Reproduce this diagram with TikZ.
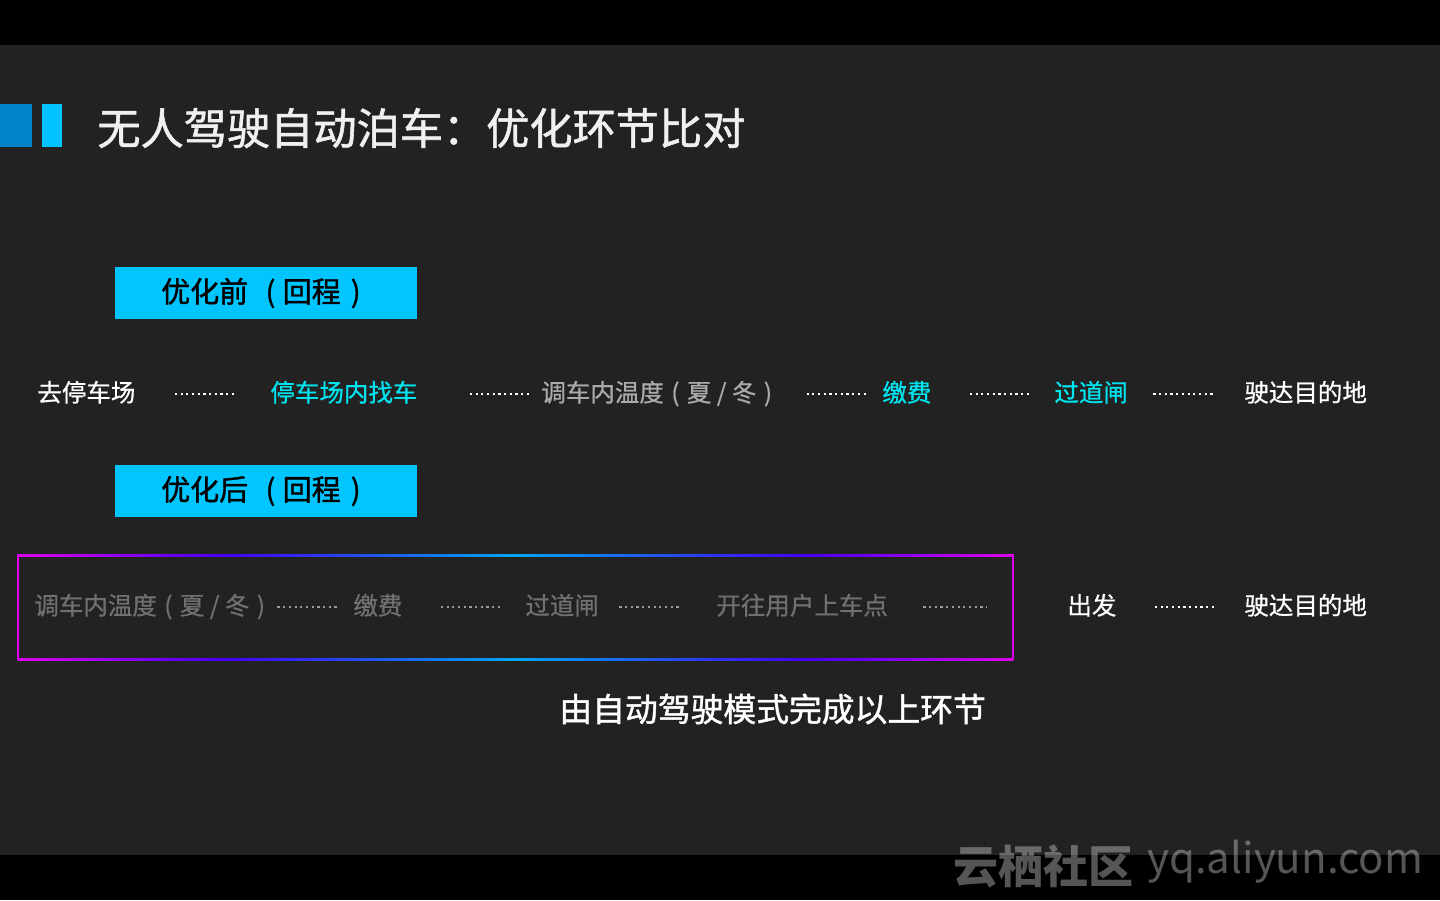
\documentclass[tikz,border=0pt]{standalone}
\usepackage{fontspec}
\setmainfont{Noto Sans CJK SC}
\newfontfamily\medfont{Noto Sans CJK SC}[FakeBold=1.3]
\newfontfamily\semifont{Noto Sans CJK SC}[FakeBold=0.7]
\definecolor{bgdark}{RGB}{34,34,34}
\definecolor{barblue}{RGB}{0,133,200}
\definecolor{barcyan}{RGB}{0,195,255}
\definecolor{boxcyan}{RGB}{0,197,255}
\definecolor{hotcyan}{RGB}{0,228,240}
\definecolor{midgray}{RGB}{170,170,170}
\definecolor{dimgray}{RGB}{112,112,112}
\definecolor{framemag}{RGB}{224,0,240}
\definecolor{framevio}{RGB}{68,0,240}
\definecolor{frameblu}{RGB}{0,168,240}
\newcommand\lp{\hspace{0.3em}(\hspace{0.3em}}
\newcommand\rp{\hspace{0.3em})}
\newcommand\taglp{\hspace{0.6em}(\hspace{0.25em}}
\newcommand\tagrp{\hspace{0.35em})\hspace{0.35em}\null}
\begin{document}
\begin{tikzpicture}[x=0.5pt, y=-0.5pt,
  item/.style={anchor=west, inner sep=0pt, text height=0.88em, text depth=0.12em,
    text=white, font=\semifont\fontsize{12.25}{14}\selectfont},
  hot/.style={item, text=hotcyan},
  dim/.style={item, text=dimgray},
  tag/.style={fill=boxcyan, inner sep=0pt, minimum width=151pt, minimum height=26pt,
    text=black, font=\medfont\fontsize{14.5}{16}\selectfont},
  dots/.style={draw=white, line width=1.1pt, dash pattern=on 1.1pt off 1.75pt},
  dimdots/.style={dots, draw=gray!80}]
  \useasboundingbox (0,0) rectangle (1440,900);
  \fill[bgdark] (0,0) rectangle (1440,900);
  \fill[black] (0,0) rectangle (1440,45);          % 上下黑边
  \fill[black] (0,855) rectangle (1440,900);
  % 标题
  \fill[barblue] (0,104) rectangle (32,147);
  \fill[barcyan] (42,104) rectangle (62,147);
  \node[anchor=west, inner sep=0pt, text=white!94!black, font=\medfont\fontsize{21.6}{24}\selectfont]
    (title) at (97,128) {无人驾驶自动泊车：优化环节比对};
  % 优化前
  \node[tag] (before) at (266,293) {优化前\taglp 回程\tagrp};
  \node[item] (go) at (37,394) {去停车场};
  \node[hot] (seek) at (270,394) {停车场内找车};
  \node[item, text=midgray] (temp) at (541,394) {调车内温度\lp 夏 / 冬\rp};
  \node[hot] (pay) at (882,394) {缴费};
  \node[hot] (gate) at (1054,394) {过道闸};
  \node[item] (arrive) at (1244,394) {驶达目的地};
  \draw[dots, shorten <=19.5pt, shorten >=16.5pt] (go) -- (seek);
  \draw[dots, shorten <=26pt, shorten >=4.5pt] (seek) -- (temp);
  \draw[dots, shorten <=17pt, shorten >=7pt] (temp) -- (pay);
  \draw[dots, shorten <=19pt, shorten >=11.5pt] (pay) -- (gate);
  \draw[dots, shorten <=12.5pt, shorten >=15pt] (gate) -- (arrive);
  % 优化后
  \node[tag] (after) at (266,491) {优化后\taglp 回程\tagrp};
  \node[inner sep=0pt, minimum width=497.5pt, minimum height=52.5pt] (frame) at (515.5,607) {};
  \shade[left color=framemag, right color=framevio] (18,554) rectangle (225,556);
  \shade[left color=framevio, right color=frameblu] (225,554) rectangle (515,556);
  \shade[left color=frameblu, right color=framevio] (515,554) rectangle (805,556);
  \shade[left color=framevio, right color=framemag] (805,554) rectangle (1013,556);
  \shade[left color=framemag, right color=framevio] (18,658) rectangle (225,660);
  \shade[left color=framevio, right color=frameblu] (225,658) rectangle (515,660);
  \shade[left color=frameblu, right color=framevio] (515,658) rectangle (805,660);
  \shade[left color=framevio, right color=framemag] (805,658) rectangle (1013,660);
  \fill[framemag] (17,554) rectangle (19,660);
  \fill[framemag] (1012,554) rectangle (1014,660);
  \node[dim] (tempB) at (34,607) {调车内温度\lp 夏 / 冬\rp};
  \node[dim] (payB) at (353,607) {缴费};
  \node[dim] (gateB) at (525,607) {过道闸};
  \node[dim] (pickB) at (716,607) {开往用户上车点};
  \node[item] (start) at (1067,607) {出发};
  \node[item] (arriveB) at (1244,607) {驶达目的地};
  \draw[dimdots, shorten <=6pt, shorten >=7pt] (tempB) -- (payB);
  \draw[dimdots, shorten <=19pt, shorten >=11.5pt] (payB) -- (gateB);
  \draw[dimdots, shorten <=10pt, shorten >=17.5pt] (gateB) -- (pickB);
  \draw[dimdots, shorten <=17.5pt, shorten >=13pt] (pickB) -- (frame.east);
  \draw[dots, shorten <=19pt, shorten >=14.5pt] (start) -- (arriveB);
  \node[anchor=west, inner sep=0pt, text=white, font=\medfont\fontsize{16.4}{18}\selectfont]
    (note) at (559,709) {由自动驾驶模式完成以上环节};
  % 水印
  \node[anchor=west, inner sep=0pt, text=white!88!black, text opacity=0.38,
    font=\bfseries\fontsize{22.5}{24}\selectfont] (mark) at (953,866) {云栖社区};
  \node[anchor=west, inner sep=0pt, text=white!88!black, text opacity=0.38,
    font=\fontsize{21}{24}\selectfont] (site) at (1147,862) {yq.aliyun.com};
\end{tikzpicture}
\end{document}
